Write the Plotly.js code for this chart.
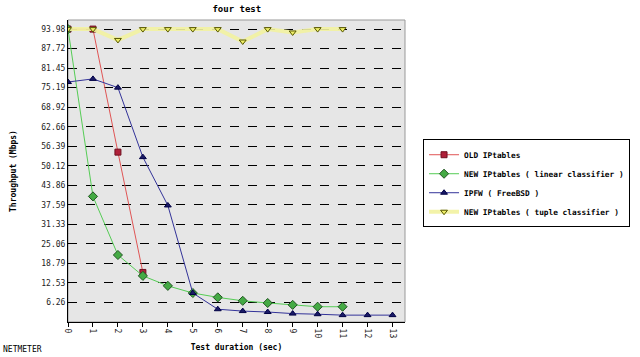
<!DOCTYPE html>
<html><head><meta charset="utf-8">
<script src="https://cdn.plot.ly/plotly-3.0.1.min.js"></script>
<style>html,body{margin:0;padding:0;background:#fff;}#chart{width:640px;height:357px;}</style>
</head><body><div id="chart"></div>
<script>
const xDur = [0,1,2,3,4,5,6,7,8,9,10,11,12,13];
const oldX = [0,1,2,3];
const oldY = [93.98,93.98,54.5,15.9];
const linX = [0,1,2,3,4,5,6,7,8,9,10,11];
const linY = [93.98,40.3,21.5,14.8,11.6,9.3,7.9,6.8,6.1,5.5,4.9,4.9];
const ipfwX = [0,1,2,3,4,5,6,7,8,9,10,11,12,13];
const ipfwY = [77.0,78.0,75.2,52.9,37.4,9.3,4.1,3.5,3.2,2.7,2.5,2.2,2.2,2.2];
const tupX = [0,1,2,3,4,5,6,7,8,9,10,11];
const tupY = [93.98,93.98,90.5,93.98,93.98,93.98,93.98,90.0,93.98,92.9,93.98,93.98];
const yTicks = [6.26,12.53,18.79,25.06,31.33,37.59,43.86,50.12,56.39,62.66,68.92,75.19,81.45,87.72,93.98];
const yTickText = yTicks.map(v => v.toFixed(2));
const names = ["OLD IPtables","NEW IPtables ( linear classifier )","IPFW ( FreeBSD )","NEW IPtables ( tuple classifier )"];

const mono = "DejaVu Sans Mono, monospace";
const traces = [
  {x: oldX, y: oldY, name: names[0], mode: "lines+markers",
   line: {color: "#e05555", width: 1},
   marker: {symbol: "square", size: 6, color: "#b0203a", line: {color: "#701020", width: 1}}},
  {x: linX, y: linY, name: names[1], mode: "lines+markers",
   line: {color: "#55cc55", width: 1},
   marker: {symbol: "diamond", size: 7, color: "#44aa44", line: {color: "#225522", width: 1}}},
  {x: ipfwX, y: ipfwY, name: names[2], mode: "lines+markers",
   line: {color: "#333399", width: 1},
   marker: {symbol: "triangle-up", size: 6, color: "#1a1a66", line: {color: "#000044", width: 1}}},
  {x: tupX, y: tupY, name: names[3], mode: "lines+markers",
   line: {color: "rgba(242,242,160,0.9)", width: 4},
   marker: {symbol: "triangle-down", size: 6, color: "#eeee66", line: {color: "#555500", width: 1}}}
];

const layout = {
  width: 640, height: 357,
  margin: {l: 68, r: 235, t: 20, b: 35, pad: 0, autoexpand: false},
  paper_bgcolor: "#ffffff",
  plot_bgcolor: "#e6e6e6",
  font: {family: mono, size: 8, color: "#000"},
  title: {text: "four test", x: 0.37, xanchor: "center", y: 0.975, yanchor: "middle",
          font: {family: mono, size: 9, weight: "bold", color: "#000"}},
  showlegend: true,
  legend: {xref: "container", yref: "container", x: 0.661, y: 0.61, xanchor: "left", yanchor: "top",
           bgcolor: "#ffffff", bordercolor: "#000", borderwidth: 1,
           font: {family: mono, size: 7.8, weight: "bold"}, tracegroupgap: 0, itemwidth: 30},
  xaxis: {range: [0, 13.5], tickvals: xDur, ticktext: xDur.map(String), tickangle: 90,
          ticks: "outside", ticklen: 4, tickcolor: "#000", showgrid: false, zeroline: false,
          showline: true, linecolor: "#000", linewidth: 1,
          tickfont: {family: mono, size: 8, color: "#222"},
          title: {text: "Test duration (sec)", standoff: 6, font: {family: mono, size: 8, weight: "bold"}}},
  yaxis: {range: [0, 96.9], tickvals: yTicks, ticktext: yTickText,
          ticks: "", showgrid: true, gridcolor: "#000", gridwidth: 1, griddash: "dash",
          zeroline: false, showline: true, linecolor: "#000", linewidth: 1,
          tickfont: {family: mono, size: 8, color: "#222"},
          title: {text: "Throughput (Mbps)", standoff: 23, font: {family: mono, size: 8, weight: "bold"}}},
  shapes: [{type: "rect", xref: "paper", yref: "paper", x0: 0, x1: 1, y0: 0, y1: 1,
            line: {color: "#999", width: 1}, layer: "below"}],
  annotations: [{text: "NETMETER", xref: "paper", yref: "paper", x: -0.2, y: -0.07,
                 xanchor: "left", yanchor: "top", showarrow: false,
                 font: {family: mono, size: 8, color: "#000"}}]
};
Plotly.newPlot("chart", traces, layout, {displayModeBar: false, staticPlot: true});
</script></body></html>
